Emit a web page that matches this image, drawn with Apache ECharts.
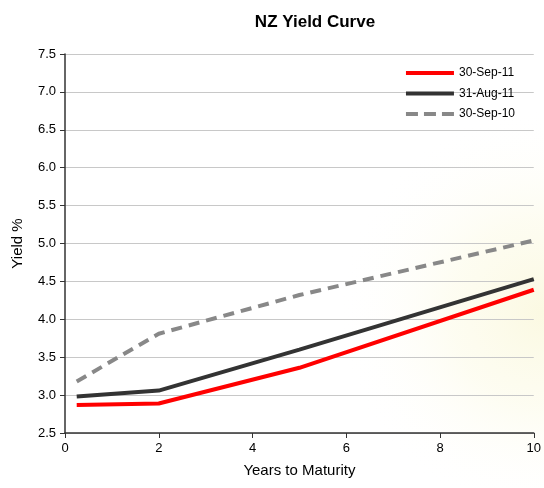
<!DOCTYPE html>
<html><head><meta charset="utf-8">
<script src="https://cdn.jsdelivr.net/npm/echarts@6/dist/echarts.min.js"></script>
<style>html,body{margin:0;padding:0;background:#fff}#c{width:544px;height:488px}</style>
</head><body><div id="c"></div>
<script>
const maturities = [0.25, 2, 5, 10];
const sep11 = [2.87, 2.89, 3.36, 4.39];
const aug11 = [2.98, 3.06, 3.60, 4.53];
const sep10 = [3.18, 3.81, 4.32, 5.04];
const seriesNames = ['30-Sep-11', '31-Aug-11', '30-Sep-10'];
const yTicks = ['2.5','3.0','3.5','4.0','4.5','5.0','5.5','6.0','6.5','7.0','7.5'];

const chart = echarts.init(document.getElementById('c'));
const pair = arr => maturities.map((m, i) => [m, arr[i]]);
const font = 'Liberation Sans, Arial, sans-serif';
const solidIcon = 'path://M0,0H48V4H0Z';
const dashIcon = 'path://M0,0H12V4H0Z M18,0H30V4H18Z M36,0H48V4H36Z';
chart.setOption({
  animation: false,
  backgroundColor: '#fff',
  graphic: [{
    type: 'rect', z: -10, silent: true,
    shape: {x: 300, y: 50, width: 244, height: 438},
    style: {fill: new echarts.graphic.RadialGradient(1, 0.6, 0.85, [
      {offset: 0, color: 'rgba(251,249,226,1)'},
      {offset: 0.45, color: 'rgba(253,252,238,0.8)'},
      {offset: 1, color: 'rgba(255,255,255,0)'}
    ])}
  }],
  title: {
    text: 'NZ Yield Curve', left: 310, top: 9, textAlign: 'center',
    textStyle: {fontFamily: font, fontSize: 17, fontWeight: 'bold', color: '#000'}
  },
  legend: {
    orient: 'vertical', right: 24, top: 62, itemWidth: 48, itemHeight: 4, itemGap: 8.5,
    data: [
      {name: seriesNames[0], icon: solidIcon},
      {name: seriesNames[1], icon: solidIcon},
      {name: seriesNames[2], icon: dashIcon}
    ],
    textStyle: {fontFamily: font, fontSize: 12, color: '#000'}
  },
  grid: {left: 65, right: 10, top: 54, bottom: 55, containLabel: false},
  xAxis: {
    type: 'value', min: 0, max: 10, interval: 2,
    name: 'Years to Maturity', nameLocation: 'middle', nameGap: 30,
    nameTextStyle: {fontFamily: font, fontSize: 15, color: '#000'},
    axisLine: {show: true, lineStyle: {color: '#333', width: 1.5}},
    axisTick: {show: true, length: 5, lineStyle: {color: '#333'}},
    axisLabel: {fontFamily: font, fontSize: 13, color: '#000', margin: 9},
    splitLine: {show: false}
  },
  yAxis: {
    type: 'value', min: 2.5, max: 7.5, interval: 0.5,
    name: 'Yield %', nameLocation: 'middle', nameGap: 40,
    nameTextStyle: {fontFamily: font, fontSize: 15, color: '#000'},
    axisLine: {show: true, lineStyle: {color: '#333', width: 1.5}},
    axisTick: {show: true, length: 5, lineStyle: {color: '#333'}},
    axisLabel: {fontFamily: font, fontSize: 13, color: '#000', margin: 9,
      formatter: v => yTicks[Math.round((v - 2.5) / 0.5)]},
    splitLine: {show: true, lineStyle: {color: '#c8c8c8', width: 1}}
  },
  series: [
    {name: seriesNames[0], type: 'line', data: pair(sep11), showSymbol: false, symbol: 'none',
      itemStyle: {color: '#ff0000'}, lineStyle: {color: '#ff0000', width: 4}, z: 5},
    {name: seriesNames[1], type: 'line', data: pair(aug11), showSymbol: false, symbol: 'none',
      itemStyle: {color: '#333333'}, lineStyle: {color: '#333333', width: 4}, z: 4},
    {name: seriesNames[2], type: 'line', data: pair(sep10), showSymbol: false, symbol: 'none',
      itemStyle: {color: '#888888'}, lineStyle: {color: '#888888', width: 4, type: [11, 7]}, z: 3}
  ]
});
</script></body></html>
